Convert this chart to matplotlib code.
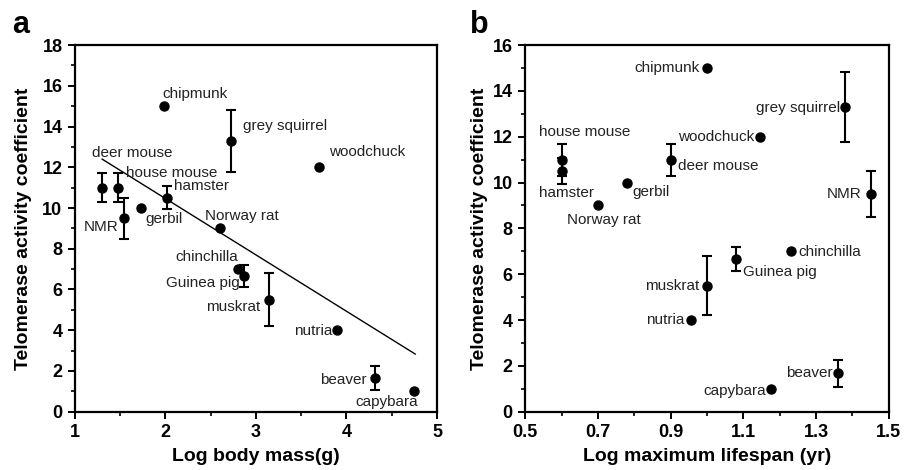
import matplotlib
matplotlib.use("Agg")
import matplotlib.pyplot as plt
from matplotlib.ticker import MultipleLocator

plt.rcParams["font.family"] = ["Liberation Sans", "DejaVu Sans"]

# species data
species = ["chipmunk", "grey squirrel", "woodchuck", "deer mouse", "house mouse",
           "hamster", "NMR", "gerbil", "Norway rat", "chinchilla", "Guinea pig",
           "muskrat", "nutria", "beaver", "capybara"]
telomerase = [15.0, 13.3, 12.0, 11.0, 11.0, 10.5, 9.5, 10.0, 9.0, 7.0, 6.67,
              5.5, 4.0, 1.67, 1.0]
telomerase_err = [0, 1.53, 0, 0.7, 0.7, 0.57, 1.0, 0, 0, 0, 0.53, 1.3, 0, 0.58, 0]
log_mass = [1.98, 2.72, 3.70, 1.30, 1.475, 2.02, 1.54, 1.73, 2.60, 2.80, 2.87,
            3.14, 3.90, 4.31, 4.75]
log_lifespan = [1.0, 1.38, 1.145, 0.9, 0.6, 0.6, 1.45, 0.78, 0.7, 1.23, 1.08,
                1.0, 0.955, 1.36, 1.177]

# regression line in panel a (end points)
fit_x = [1.30, 4.76]
fit_y = [12.4, 2.83]

# label offsets in pixels (dx, dy, ha) for each species
offsets_a = {
    "chipmunk": (-1, 12, "left"), "grey squirrel": (12, 15, "left"),
    "woodchuck": (10, 15, "left"), "deer mouse": (-10, 35, "left"),
    "house mouse": (8, 15, "left"), "hamster": (7, 12, "left"),
    "NMR": (-5, -9, "right"), "gerbil": (4, -11, "left"),
    "Norway rat": (-15, 12, "left"), "chinchilla": (0, 12, "right"),
    "Guinea pig": (-4, -7, "right"), "muskrat": (-8, -7, "right"),
    "nutria": (-5, -1, "right"), "beaver": (-8, -2, "right"),
    "capybara": (4, -11, "right"),
}
offsets_b = {
    "chipmunk": (-7, 0, "right"), "grey squirrel": (-5, -1, "right"),
    "woodchuck": (-5, 0, "right"), "deer mouse": (7, -6, "left"),
    "house mouse": (-23, 28, "left"), "hamster": (-23, -22, "left"),
    "NMR": (-9, 0, "right"), "gerbil": (5, -9, "left"),
    "Norway rat": (-31, -15, "left"), "chinchilla": (8, -1, "left"),
    "Guinea pig": (7, -13, "left"), "muskrat": (-8, 0, "right"),
    "nutria": (-6, 0, "right"), "beaver": (-5, 0, "right"),
    "capybara": (-5, -2, "right"),
}

fig = plt.figure(figsize=(9.13, 4.70), dpi=100)
ax_a = fig.add_axes([0.0821, 0.124, 0.3965, 0.7802])
ax_b = fig.add_axes([0.5754, 0.124, 0.398, 0.7802])


def draw_panel(ax, xs, offsets):
    for x, y, e, name in zip(xs, telomerase, telomerase_err, species):
        if e > 0:
            ax.errorbar(x, y, yerr=e, fmt="none", ecolor="black",
                        elinewidth=1.5, capsize=3.5, capthick=1.5, zorder=2)
        ax.plot(x, y, "o", color="black", markersize=6.5, zorder=3)
        dx, dy, ha = offsets[name]
        ax.annotate(name, (x, y), xytext=(dx, dy), textcoords="offset pixels",
                    ha=ha, va="center", fontsize=11, color="#222222")
    ax.set_ylabel("Telomerase activity coefficient", fontsize=14,
                  fontweight="bold")
    for s in ax.spines.values():
        s.set_linewidth(1.6)
    ax.tick_params(which="major", direction="out", length=5, width=1.4,
                   labelsize=13, pad=4)
    ax.tick_params(which="minor", direction="out", length=3, width=1.2)


# panel a
draw_panel(ax_a, log_mass, offsets_a)
ax_a.plot(fit_x, fit_y, color="black", linewidth=1.0, zorder=1)
ax_a.set_xlim(1, 5)
ax_a.set_ylim(0, 18)
ax_a.xaxis.set_major_locator(MultipleLocator(1))
ax_a.xaxis.set_minor_locator(MultipleLocator(0.5))
ax_a.yaxis.set_major_locator(MultipleLocator(2))
ax_a.yaxis.set_minor_locator(MultipleLocator(1))
ax_a.set_xlabel("Log body mass(g)", fontsize=14, fontweight="bold")
ax_a.yaxis.set_label_coords(-0.119, 0.5)
ax_a.xaxis.set_label_coords(0.5, -0.098)

# panel b
draw_panel(ax_b, log_lifespan, offsets_b)
ax_b.set_xlim(0.5, 1.5)
ax_b.set_ylim(0, 16)
ax_b.set_xticks([0.5, 0.7, 0.9, 1.1, 1.3, 1.5])
ax_b.set_xticklabels(["0.5", "0.7", "0.9", "1.1", "1.3", "1.5"])
ax_b.xaxis.set_minor_locator(MultipleLocator(0.1))
ax_b.yaxis.set_major_locator(MultipleLocator(2))
ax_b.yaxis.set_minor_locator(MultipleLocator(1))
ax_b.set_xlabel("Log maximum lifespan (yr)", fontsize=14, fontweight="bold")
ax_b.yaxis.set_label_coords(-0.103, 0.5)
ax_b.xaxis.set_label_coords(0.5, -0.098)

for ax in (ax_a, ax_b):
    for lab in ax.get_xticklabels() + ax.get_yticklabels():
        lab.set_fontweight("bold")

fig.text(0.013, 0.93, "a", fontsize=22, fontweight="bold", va="baseline")
fig.text(0.515, 0.93, "b", fontsize=22, fontweight="bold", va="baseline")

fig.savefig("out.png", dpi=100)
